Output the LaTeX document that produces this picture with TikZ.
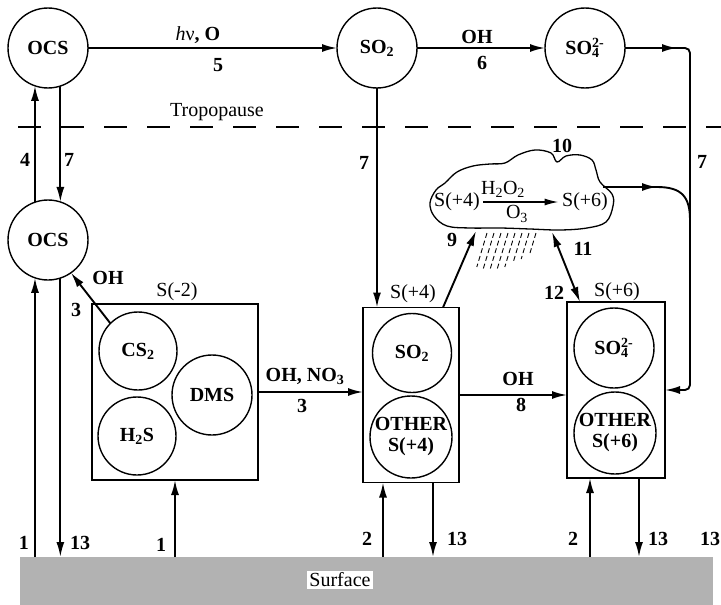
\documentclass[tikz,border=0pt]{standalone}
\usepackage{fontspec}
\setmainfont{Liberation Serif}
\usetikzlibrary{arrows.meta}
\newcommand{\sofour}{SO\rlap{\textsuperscript{2-}}\textsubscript{4}\hspace{5pt}}
\begin{document}
\begin{tikzpicture}[x=1pt,y=-1pt,
  every node/.style={font=\fontsize{20}{21}\selectfont},
  bl/.style={font=\fontsize{20}{21}\selectfont\bfseries},
  spc/.style={circle,draw,line width=1.4pt,minimum size=80pt,inner sep=0pt,outer sep=0pt,
    font=\fontsize{20}{21}\selectfont\bfseries,align=center},
  grp/.style={rectangle,draw,line width=1.4pt,inner sep=0pt,outer sep=0pt},
  arr/.style={line width=1.9pt,-{Latex[length=15pt,width=8pt]}},
  dbl/.style={line width=1.9pt,{Latex[length=15pt,width=8pt]}-{Latex[length=15pt,width=8pt]}},
  ln/.style={line width=1.9pt}]
\useasboundingbox (0,0) rectangle (721,605);

% surface
\node[fill=gray!60,minimum width=693pt,minimum height=48pt,inner sep=0pt,outer sep=0pt,anchor=north west] (surf) at (20,557) {};
\node[fill=white,inner sep=2pt] (surflab) at (340,580) {Surface};

% tropopause
\draw[line width=1.6pt,dash pattern=on 23pt off 20pt] (18,127) -- (721,127);
\node (trop) at (217,112) {Tropopause};

% stratospheric species
\node[spc] (ocs1) at (48,48) {OCS};
\node[spc] (so2t) at (377,48) {SO\textsubscript{2}};
\node[spc] (so4t) at (585,48) {\sofour};
\node[spc] (ocs2) at (48,240) {OCS};

% boxes
\node[grp,minimum width=166pt,minimum height=176pt] (bm2) at (175,392) {};
\node[grp,minimum width=96pt,minimum height=175pt] (b4) at (411,395) {};
\node[grp,minimum width=98pt,minimum height=176pt] (b6) at (616,390) {};

% inner species
\node[spc,minimum size=78pt] (cs2) at (138,351) {CS\textsubscript{2}};
\node[spc,minimum size=78pt] (h2s) at (137,436) {H\textsubscript{2}S};
\node[spc] (dms) at (212,395) {DMS};
\node[spc,minimum size=79pt] (so2b) at (412,353) {SO\textsubscript{2}};
\node[spc,minimum size=82pt] (oth4) at (411,437) {OTHER\\S(+4)};
\node[spc] (so4b) at (614,348) {\sofour};
\node[spc,minimum size=82pt] (oth6) at (615,433) {OTHER\\S(+6)};

% cloud
\draw[line width=1.3pt] plot[smooth cycle,tension=0.6] coordinates {
 (430,203) (436,190) (445,183) (457,172) (473,166) (490,164) (505,163)
 (518,155) (535,150) (551,153) (557,162) (566,156) (580,155) (592,160)
 (596,170) (600,182) (612,194) (613,206) (606,222) (587,228) (560,230)
 (530,229) (500,228) (470,228) (447,226) (434,216)};
\node (cs4) at (457,202) {S(+4)};
\node (cs6) at (585,202) {S(+6)};
\draw[line width=1.6pt,-{Latex[length=14pt,width=7pt]}] (cs4.east) -- (cs6.west);
\node (h2o2) at (503,189) {H\textsubscript{2}O\textsubscript{2}};
\node (o3) at (517,214) {O\textsubscript{3}};
\foreach \x/\l in {487/34,494/36,501/38,508/36,515/34,522/30,529/26,536/20}
  \draw[line width=0.9pt,dash pattern=on 5pt off 3pt] (\x,233) -- ++(-0.3*\l,\l);

\coordinate (c9) at (476,231);
\coordinate (c11) at (552,232);
\coordinate (cr) at (603,187);
\coordinate (m2) at (657,187);
\coordinate (m1) at (677,48);
\coordinate (tr) at (690,48);
\coordinate (p9) at ([xshift=32pt]b4.north);
\coordinate (p12) at ([xshift=-36pt]b6.north);
\coordinate (p2a) at ([xshift=-28pt]b4.south);
\coordinate (p13a) at ([xshift=22pt]b4.south);
\coordinate (p2b) at ([xshift=-26pt]b6.south);
\coordinate (p13b) at ([xshift=23pt]b6.south);

% connectors
\draw[arr] (ocs1.east) -- (so2t.west);
\draw[arr] (so2t.east) -- (so4t.west);
\draw[arr,rounded corners=5pt] (so4t.east) -- (tr) -- (tr |- b6.east) -- (b6.east);
\draw[arr] (so4t.east) -- (m1);
\draw[ln] (cr) -- (m2) .. controls (682,187) and (690,197) .. (690,220);
\draw[arr] (cr) -- (m2);
\draw[arr] (ocs2.109) -- (ocs1.251);
\draw[arr] (ocs1.288) -- (ocs2.72);
\draw[arr] (ocs2.251 |- surf.north) -- (ocs2.251);
\draw[arr] (ocs2.288) -- (ocs2.288 |- surf.north);
\draw[arr] (cs2.135) -- (ocs2.-55);
\draw[arr] (bm2.east) -- (bm2.east -| b4.west);
\draw[arr] (bm2.south |- surf.north) -- (bm2.south);
\draw[arr] (so2t.south) -- (so2t.south |- b4.north);
\draw[arr] (b4.east) -- (b4.east -| b6.west);
\draw[arr] (p9) -- (c9);
\draw[dbl] (c11) -- (p12);
\draw[arr] (p2a |- surf.north) -- (p2a);
\draw[arr] (p13a) -- (p13a |- surf.north);
\draw[arr] (p2b |- surf.north) -- (p2b);
\draw[arr] (p13b) -- (p13b |- surf.north);

% labels
\node[bl] (l5a) at (198,35) {{\mdseries\itshape h}{\mdseries ν}, O};
\node[bl] (l5) at (218,65) {5};
\node[bl] (l6a) at (477,37) {OH};
\node[bl] (l6) at (482,63) {6};
\node[bl] (l4) at (25,160) {4};
\node[bl] (l7a) at (69,160) {7};
\node[bl] (l3a) at (108,278) {OH};
\node[bl] (l3) at (76,310) {3};
\node (lm2) at (177,292) {S(-2)};
\node[bl] (l3b) at (305,376) {OH, NO\textsubscript{3}};
\node[bl] (l3c) at (302,406) {3};
\node[bl] (l1a) at (24,543) {1};
\node[bl] (l13a) at (80,543) {13};
\node[bl] (l1b) at (161,545) {1};
\node[bl] (l7b) at (364,163) {7};
\node[bl] (l7c) at (702,162) {7};
\node[bl] (l10) at (562,146) {10};
\node[bl] (l9) at (452,240) {9};
\node[bl] (l11) at (583,249) {11};
\node[bl] (l12) at (554,293) {12};
\node (lp4) at (413,294) {S(+4)};
\node (lp6) at (617,292) {S(+6)};
\node[bl] (l8a) at (518,379) {OH};
\node[bl] (l8) at (521,405) {8};
\node[bl] (l2a) at (367,539) {2};
\node[bl] (l13b) at (457,539) {13};
\node[bl] (l2b) at (573,539) {2};
\node[bl] (l13c) at (658,539) {13};
\node[bl] (l13d) at (710,539) {13};
\end{tikzpicture}
\end{document}
